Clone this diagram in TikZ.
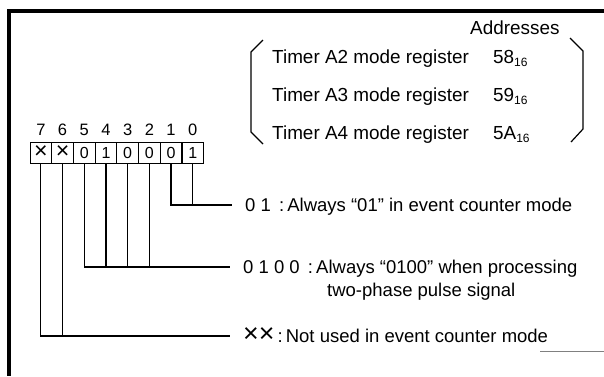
\documentclass[tikz,border=0pt]{standalone}
\usepackage{fontspec}
\setmainfont{Liberation Sans}
\newcommand{\sixteen}{\raisebox{-0.3ex}{\fontsize{12}{13}\selectfont 16}}
\newcommand{\bigx}{\scalebox{1.45}{×}}
\begin{document}
\begin{tikzpicture}[x=1pt,y=-1pt,
  txt/.style={anchor=base west,inner sep=0pt,font=\fontsize{18.5}{21}\selectfont},
  toptxt/.style={anchor=base west,inner sep=0pt,font=\fontsize{18.9}{22}\selectfont},
  cell/.style={draw,line width=0.9pt,minimum width=21.5pt,minimum height=21pt,inner sep=0pt,font=\fontsize{16}{17}\selectfont},
  bitlab/.style={anchor=base,inner sep=0pt,font=\fontsize{16.5}{17}\selectfont},
  bus/.style={line width=1.2pt},
  frame/.style={line width=3.5pt}]
\useasboundingbox (0,0) rectangle (604,376);
% frame
\coordinate (ftl) at (9,11);
\coordinate (ftr) at (604,11);
\coordinate (fbl) at (9,376);
\draw[frame] (ftr) -- (ftl) -- (fbl);
\coordinate (bl1) at (540,351);
\coordinate (bl2) at (604,351);
\draw[line width=1pt,gray] (bl1) -- (bl2);
% address block
\node[toptxt] (addr) at (470,34) {Addresses};
\node[toptxt] (r2) at (272,63) {Timer A2 mode register};
\node[toptxt] (r3) at (272,101) {Timer A3 mode register};
\node[toptxt] (r4) at (272,139) {Timer A4 mode register};
\node[toptxt] (a2) at (493,63) {58\sixteen};
\node[toptxt] (a3) at (493,101) {59\sixteen};
\node[toptxt] (a4) at (493,139) {5A\sixteen};
\coordinate (pl1) at (263,40);
\coordinate (pl2) at (251,52);
\coordinate (pl3) at (251,132);
\coordinate (pl4) at (263,144);
\draw[line width=1.2pt] (pl1) -- (pl2) -- (pl3) -- (pl4);
\coordinate (pr1) at (570,38);
\coordinate (pr2) at (583,51);
\coordinate (pr3) at (583,129);
\coordinate (pr4) at (571,142);
\draw[line width=1.2pt] (pr1) -- (pr2) -- (pr3) -- (pr4);
% register cells
\foreach \i/\v in {7/\bigx,6/\bigx,5/0,4/1,3/0,2/0,1/0,0/1}{
  \node[cell] (b\i) at ({30+21.7*(7-\i)+10.85},152.5) {\v};
  \node[bitlab] (l\i) at ({30+21.7*(7-\i)+10.85},135) {\i};
}
% bus ends
\coordinate (e1) at (232,205);
\coordinate (e2) at (230,267);
\coordinate (e3) at (230,336);
\draw[bus] (b1.south) |- (e1);
\draw[bus] (b0.south) -- (b0.south |- e1);
\draw[bus] (b5.south) |- (e2);
\foreach \i in {4,3,2}{\draw[bus] (b\i.south) -- (b\i.south |- e2);}
\draw[bus] (b7.south) |- (e3);
\draw[bus] (b6.south) -- (b6.south |- e3);
% descriptions
\node[txt] (t1) at (245,211.5) {0 1 \,:\,Always “01” in event counter mode};
\node[txt] (t2) at (243,273.5) {0 1 0 0 \,:\,Always “0100” when processing};
\node[txt] (t2b) at (327,296.5) {two-phase pulse signal};
\node[txt] (t3) at (243,342) {\bigx\bigx\,:\,Not used in event counter mode};
\end{tikzpicture}
\end{document}
